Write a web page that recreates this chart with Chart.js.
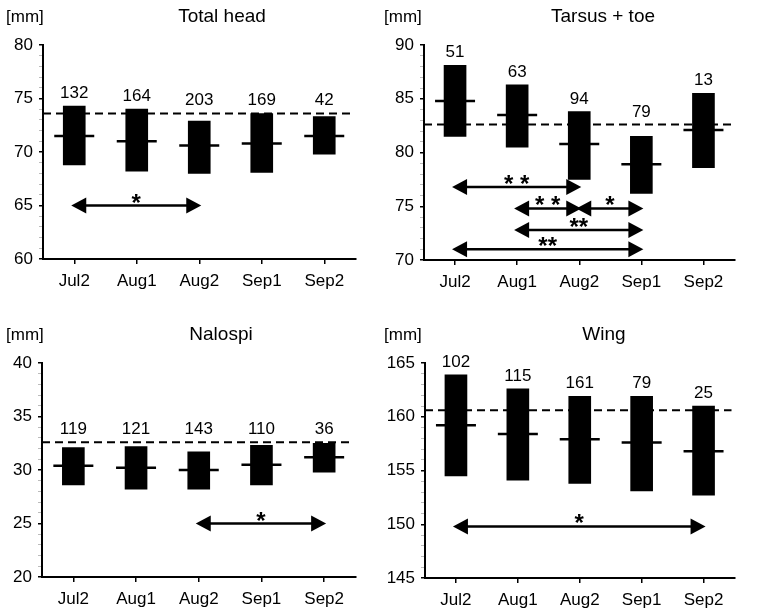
<!DOCTYPE html>
<html>
<head>
<meta charset="utf-8">
<script src="https://cdn.jsdelivr.net/npm/chart.js@4.4.1/dist/chart.umd.min.js"></script>
<style>
  body { margin: 0; background: #fff; }
  .panel { position: absolute; }
</style>
</head>
<body>
<div class="panel" style="left:0;top:0"><canvas id="c1" width="378" height="300"></canvas></div>
<div class="panel" style="left:378px;top:0"><canvas id="c2" width="379" height="300"></canvas></div>
<div class="panel" style="left:0;top:300px"><canvas id="c3" width="378" height="312"></canvas></div>
<div class="panel" style="left:378px;top:300px"><canvas id="c4" width="379" height="312"></canvas></div>
<script>
const periods = ['Jul2', 'Aug1', 'Aug2', 'Sep1', 'Sep2'];

// Total head
const headLow = [68.8, 68.2, 68.0, 68.1, 69.8];
const headHigh = [74.3, 74.0, 72.9, 73.6, 73.3];
const headMean = [71.5, 71.0, 70.6, 70.8, 71.5];
const headN = [132, 164, 203, 169, 42];
const headRef = 73.6;
const headSig = [[0, 2, 65, '*']];

// Tarsus + toe
const tarsusLow = [81.5, 80.5, 77.5, 76.2, 78.6];
const tarsusHigh = [88.1, 86.3, 83.8, 81.5, 85.5];
const tarsusMean = [84.8, 83.5, 80.8, 78.9, 82.1];
const tarsusN = [51, 63, 94, 79, 13];
const tarsusRef = 82.6;
const tarsusSig = [[0, 2, 76.8, '* *'], [1, 2, 74.8, '* *'], [2, 3, 74.8, '*'], [1, 3, 72.8, '**'], [0, 3, 71.0, '**']];

// Nalospi
const nalospiLow = [28.6, 28.2, 28.2, 28.6, 29.8];
const nalospiHigh = [32.1, 32.2, 31.7, 32.3, 32.5];
const nalospiMean = [30.4, 30.2, 30.0, 30.5, 31.2];
const nalospiN = [119, 121, 143, 110, 36];
const nalospiRef = 32.6;
const nalospiSig = [[2, 4, 25, '*']];

// Wing
const wingLow = [154.5, 154.1, 153.8, 153.1, 152.7];
const wingHigh = [163.9, 162.6, 161.9, 161.9, 161.0];
const wingMean = [159.2, 158.4, 157.9, 157.6, 156.8];
const wingN = [102, 115, 161, 79, 25];
const wingRef = 160.6;
const wingSig = [[0, 4, 149.8, '*']];

const FONT = "'Liberation Sans', Arial, sans-serif";

function decoPlugin(title, nums, ref, sig) {
    return {
        id: 'deco',
        afterDatasetsDraw(chart) {
            const ctx = chart.ctx;
            const area = chart.chartArea;
            const x = chart.scales.x;
            const y = chart.scales.y;
            ctx.save();
            ctx.fillStyle = '#000';
            ctx.strokeStyle = '#000';

            // titles
            ctx.font = '17px ' + FONT;
            ctx.textAlign = 'left';
            ctx.textBaseline = 'middle';
            ctx.fillText('[mm]', 6, area.top - 28);
            ctx.font = '19px ' + FONT;
            ctx.textAlign = 'center';
            ctx.fillText(title, area.left + 179, area.top - 28);

            // overall mean, dashed
            const ry = y.getPixelForValue(ref);
            ctx.lineWidth = 2;
            ctx.setLineDash([8, 5]);
            ctx.beginPath();
            ctx.moveTo(area.left, ry);
            ctx.lineTo(area.right - 3, ry);
            ctx.stroke();
            ctx.setLineDash([]);

            // sample sizes, above the bar or the dashed line
            const bars = chart.getDatasetMeta(0).data;
            ctx.font = '17px ' + FONT;
            ctx.textBaseline = 'alphabetic';
            bars.forEach((b, i) => {
                ctx.fillText(String(nums[i]), b.x, Math.min(b.y, ry) - 8);
            });

            // significance arrows
            sig.forEach(([a, b, v, label]) => {
                const x1 = x.getPixelForValue(a) - 3;
                const x2 = x.getPixelForValue(b) + 2;
                const yy = y.getPixelForValue(v);
                const hl = 15, hh = 8;
                ctx.lineWidth = 2.5;
                ctx.beginPath();
                ctx.moveTo(x1 + hl - 2, yy);
                ctx.lineTo(x2 - hl + 2, yy);
                ctx.stroke();
                ctx.beginPath();
                ctx.moveTo(x1, yy);
                ctx.lineTo(x1 + hl, yy - hh);
                ctx.lineTo(x1 + hl, yy + hh);
                ctx.closePath();
                ctx.fill();
                ctx.beginPath();
                ctx.moveTo(x2, yy);
                ctx.lineTo(x2 - hl, yy - hh);
                ctx.lineTo(x2 - hl, yy + hh);
                ctx.closePath();
                ctx.fill();
                ctx.font = 'bold 24px ' + FONT;
                ctx.textAlign = 'center';
                ctx.textBaseline = 'alphabetic';
                ctx.fillText(label, (x1 + x2) / 2, yy + 5);
            });
            ctx.restore();
        }
    };
}

function makePanel(id, title, low, high, mean, nums, ref, sig, ymin, ymax, box) {
    const ranges = low.map((v, i) => [v, high[i]]);
    new Chart(document.getElementById(id), {
        type: 'bar',
        data: {
            labels: periods,
            datasets: [{
                data: ranges,
                backgroundColor: '#000',
                barThickness: 22,
                order: 2
            }, {
                type: 'line',
                data: mean,
                showLine: false,
                pointStyle: 'line',
                pointRadius: 20,
                pointBorderWidth: 2.5,
                pointBorderColor: '#000',
                borderColor: '#000',
                order: 1
            }]
        },
        options: {
            responsive: false,
            animation: false,
            events: [],
            layout: {
                padding: { top: box.top, right: box.right, left: 0, bottom: 0 }
            },
            scales: {
                x: {
                    offset: true,
                    grid: {
                        offset: false,
                        drawOnChartArea: false,
                        tickLength: 5,
                        color: '#000',
                        lineWidth: 1.5
                    },
                    border: { color: '#000', width: 2 },
                    ticks: {
                        color: '#000',
                        padding: 7,
                        font: { family: FONT, size: 17 }
                    },
                    afterFit(scale) { scale.height = box.xh; }
                },
                y: {
                    min: ymin,
                    max: ymax,
                    grid: {
                        drawOnChartArea: false,
                        tickLength: 4,
                        color: (c) => (c.tick && c.tick.value % 5 === 0) ? '#000' : '#bbb',
                        lineWidth: (c) => (c.tick && c.tick.value % 5 === 0) ? 1.5 : 1
                    },
                    border: { color: '#000', width: 2 },
                    ticks: {
                        stepSize: 1,
                        autoSkip: false,
                        color: '#000',
                        padding: 6,
                        font: { family: FONT, size: 17 },
                        callback: (v) => (v % 5 === 0 ? v : '')
                    },
                    afterFit(scale) { scale.width = box.yw; }
                }
            },
            plugins: {
                legend: { display: false },
                tooltip: { enabled: false }
            }
        },
        plugins: [decoPlugin(title, nums, ref, sig)]
    });
}

makePanel('c1', 'Total head', headLow, headHigh, headMean, headN, headRef, headSig, 60, 80,
    { top: 45, right: 5, xh: 41, yw: 43 });
makePanel('c2', 'Tarsus + toe', tarsusLow, tarsusHigh, tarsusMean, tarsusN, tarsusRef, tarsusSig, 70, 90,
    { top: 45, right: 2, xh: 40, yw: 46 });
makePanel('c3', 'Nalospi', nalospiLow, nalospiHigh, nalospiMean, nalospiN, nalospiRef, nalospiSig, 20, 40,
    { top: 63, right: 6, xh: 35, yw: 42 });
makePanel('c4', 'Wing', wingLow, wingHigh, wingMean, wingN, wingRef, wingSig, 145, 165,
    { top: 63, right: 2, xh: 34, yw: 47 });
</script>
</body>
</html>
